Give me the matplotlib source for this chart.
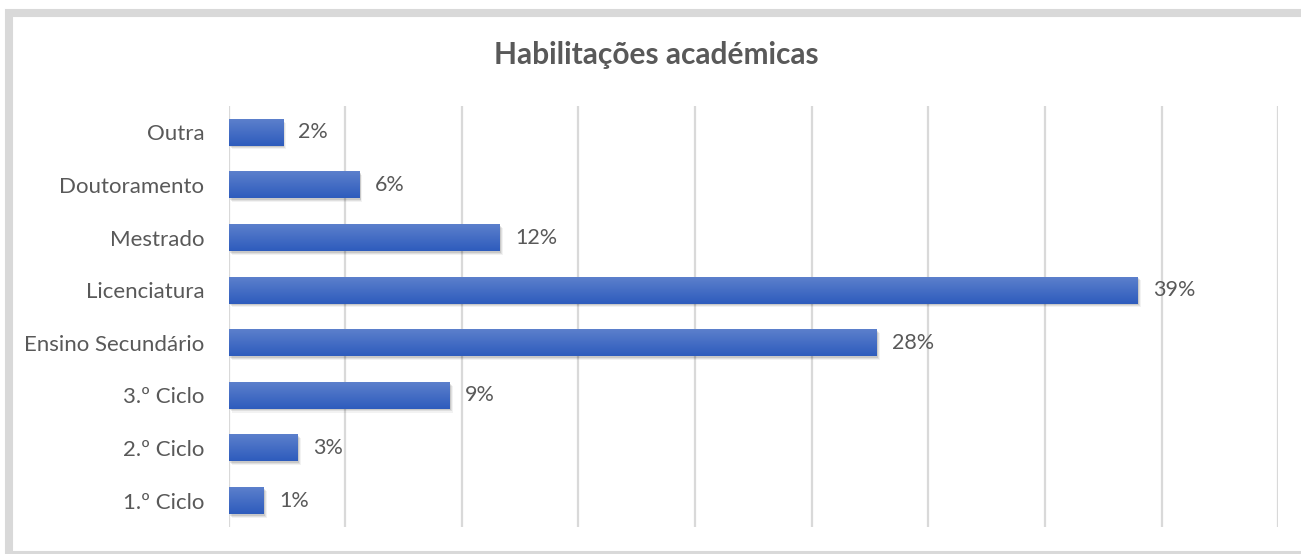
import numpy as np
import matplotlib
matplotlib.use('Agg')
import matplotlib.pyplot as plt
from matplotlib.patches import Rectangle

# dados (percentagens), de baixo para cima como no gráfico
categorias = ['1.º Ciclo', '2.º Ciclo', '3.º Ciclo', 'Ensino Secundário',
              'Licenciatura', 'Mestrado', 'Doutoramento', 'Outra']
percentagens = [1.48, 2.94, 9.45, 27.75, 38.94, 11.6, 5.58, 2.32]
titulo = 'Habilitações académicas'

W, H = 1301, 554
TEXT_COLOR = '#595959'
GRID_COLOR = '#d9d9d9'

plt.rcParams['font.family'] = ['Lato', 'DejaVu Sans']

fig = plt.figure(figsize=(W / 100, H / 100), dpi=100)
fig.patch.set_facecolor('white')

# moldura cinzenta à volta do gráfico
fig.patches.append(Rectangle((9 / W, 1 - 555 / H), 1.5, (555 - 13) / H,
                             transform=fig.transFigure, fill=False,
                             edgecolor=GRID_COLOR, linewidth=5.8))

ax = fig.add_axes([228.5 / W, 1 - 527 / H, (1278.3 - 228.5) / W, 421 / H])
ax.set_xlim(0, 45)
ax.set_ylim(-0.5, len(categorias) - 0.5)
ax.set_xticks(np.arange(0, 46, 5))
ax.grid(axis='x', color=GRID_COLOR, linewidth=1.6)
ax.set_axisbelow(True)
ax.tick_params(axis='x', length=0, labelbottom=False)
ax.tick_params(axis='y', length=0, pad=17.5, labelsize=16, labelcolor=TEXT_COLOR)
for s in ax.spines.values():
    s.set_visible(False)

y = np.arange(len(categorias))
altura = 0.51
ax.set_yticks(y)
ax.set_yticklabels(categorias)

# gradiente vertical das barras (mais claro em cima)
grad = np.linspace(0, 1, 64).reshape(-1, 1)
top = np.array([0.36, 0.50, 0.80])
bottom = np.array([0.18, 0.36, 0.74])
img = (top[None, None, :] * (1 - grad[..., None]) + bottom[None, None, :] * grad[..., None])

for yi, v in zip(y, percentagens):
    # sombra
    for k, a in enumerate([0.10, 0.08, 0.05]):
        ax.add_patch(Rectangle((0.08 + 0.04 * k, yi - altura / 2 - 0.03 - 0.02 * k), v, altura,
                               facecolor='black', alpha=a, linewidth=0, zorder=2))
    ax.imshow(img, extent=[0, v, yi - altura / 2, yi + altura / 2],
              aspect='auto', zorder=3, interpolation='bilinear')
    ax.text(v + 0.68, yi, f'{v:.0f}%', va='center', ha='left',
            fontsize=15.5, color=TEXT_COLOR, zorder=4)

ax.set_xlim(0, 45)
ax.set_ylim(-0.5, len(categorias) - 0.5)

fig.text(656 / W, 1 - 55 / H, titulo, ha='center', va='center',
         fontsize=21.5, fontweight='bold', color=TEXT_COLOR)

fig.savefig('out.png', dpi=100)
